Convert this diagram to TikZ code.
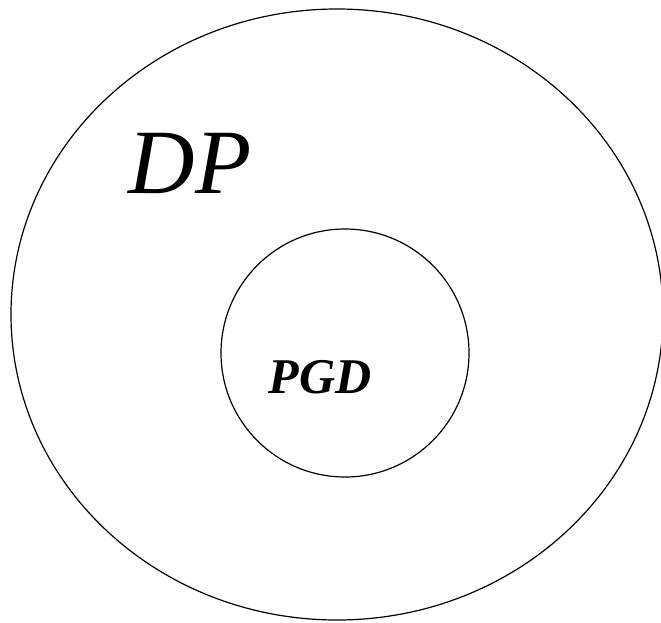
\documentclass[tikz,border=0pt]{standalone}
\usepackage{fontspec}
\setmainfont{Liberation Serif}
\begin{document}
\begin{tikzpicture}[x=1pt,y=-1pt,
  ring/.style={draw=black,line width=1.2pt}]
\useasboundingbox (0,0) rectangle (661,622);
\begin{scope}
\clip (0,0) rectangle (661,622);
\draw[ring] (337,314.5) ellipse [x radius=326, y radius=305.5];
\end{scope}
\node[draw=black,line width=1.2pt,circle,minimum size=248pt,inner sep=0pt] (pgd) at (345,353) {};
\node[inner sep=0pt,anchor=base] (pgdt) at (320,393) {\fontsize{50}{50}\selectfont\bfseries\itshape PGD};
\node[inner sep=0pt,anchor=base] (dp) at (190,193) {\fontsize{92}{92}\selectfont\itshape DP};
\end{tikzpicture}
\end{document}
